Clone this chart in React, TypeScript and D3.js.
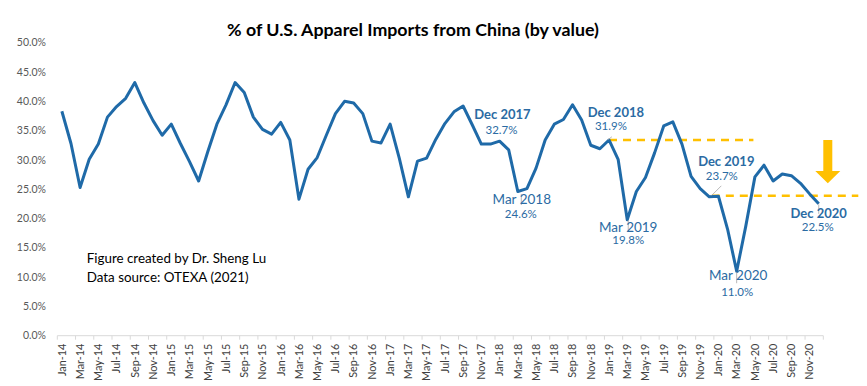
import React, { useEffect, useRef } from 'react';
import * as d3 from 'd3';

// monthly share of U.S. apparel imports (by value) coming from China, in %
const monthNames = ['Jan', 'Feb', 'Mar', 'Apr', 'May', 'Jun', 'Jul', 'Aug', 'Sep', 'Oct', 'Nov', 'Dec'];
const years = ['14', '15', '16', '17', '18', '19', '20'];

const share2014 = [38.3, 32.8, 25.3, 30.1, 32.7, 37.3, 39.1, 40.5, 43.2, 39.7, 36.7, 34.2];
const share2015 = [36.1, 32.8, 29.7, 26.4, 31.4, 36.1, 39.4, 43.2, 41.5, 37.3, 35.2, 34.4];
const share2016 = [36.4, 33.4, 23.3, 28.4, 30.4, 34.2, 37.9, 40.0, 39.7, 37.9, 33.2, 32.9];
const share2017 = [36.1, 30.3, 23.7, 29.8, 30.3, 33.5, 36.2, 38.2, 39.2, 36.0, 32.7, 32.7];
const share2018 = [33.2, 31.7, 24.6, 25.1, 28.6, 33.4, 36.1, 36.9, 39.4, 36.8, 32.5, 31.9];
const share2019 = [33.4, 30.1, 19.8, 24.6, 27.0, 31.2, 35.8, 36.5, 32.7, 27.2, 25.1, 23.7];
const share2020 = [23.8, 18.2, 11.0, 18.7, 27.1, 29.1, 26.4, 27.6, 27.3, 26.0, 24.2, 22.5];

const shares = [...share2014, ...share2015, ...share2016, ...share2017, ...share2018, ...share2019, ...share2020];
const months = years.flatMap(y => monthNames.map(m => `${m}-${y}`));

const yTicks = [0, 5, 10, 15, 20, 25, 30, 35, 40, 45, 50];

// callouts
const calloutMonths = ['Dec-17', 'Mar-18', 'Dec-18', 'Mar-19', 'Dec-19', 'Mar-20', 'Dec-20'];
const calloutTitles = ['Dec 2017', 'Mar 2018', 'Dec 2018', 'Mar 2019', 'Dec 2019', 'Mar 2020', 'Dec 2020'];

// reference levels (dashed)
const refLevels = [33.4, 23.9];
const refStart = ['Jan-19', 'Dec-19'];
const refEnd = ['May-20', null];

const footnotes = ['Figure created by Dr. Sheng Lu', 'Data source: OTEXA (2021)'];

// label offsets relative to the point
const calloutLayout = [
  { tx: 12, ty: -25, vx: 11, vy: -10, bold: true, leader: null },
  { tx: 4, ty: 12.5, vx: 3, vy: 26, bold: false, leader: [3.5, 2.5, 3.5, 13.5] },
  { tx: 16, ty: -32, vx: 11, vy: -19, bold: true, leader: [8, -9, 12, -12] },
  { tx: 1, ty: 12, vx: 1, vy: 24.5, bold: false, leader: [1, 0.5, 1, 12] },
  { tx: 17, ty: -31, vx: 12.5, vy: -17, bold: true, leader: [2.5, -1.5, 12, -11] },
  { tx: 1.5, ty: 9, vx: 0.5, vy: 24.5, bold: false, leader: [0, 1, 0, 12] },
  { tx: 0, ty: 14.5, vx: -1, vy: 27, bold: true, leader: [0, 0.5, 0, 10] },
];

const W = 867;
const H = 386;
const FONT = 'Lato, "Open Sans", sans-serif';
const LINE = '#1f6aa8';
const LABEL = '#2b6ba3';
const GOLD = '#ffc000';

const App = () => {
  const svgRef = useRef(null);

  useEffect(() => {
    const svg = d3.select(svgRef.current);
    svg.selectAll('*').remove();

    const x = d3.scaleBand().domain(months).range([57.3, 823.3]).paddingInner(0).paddingOuter(0);
    const y = d3.scaleLinear().domain([0, 50]).range([335.7, 42.7]);
    const cx = (m: string) => (x(m) as number) + x.bandwidth() / 2;

    svg.append('rect').attr('width', W).attr('height', H).attr('fill', 'white');

    // title
    svg.append('text')
      .attr('x', 413)
      .attr('y', 36)
      .attr('text-anchor', 'middle')
      .attr('font-family', FONT)
      .attr('font-weight', 'bold')
      .attr('font-size', 17.8)
      .attr('fill', '#000')
      .text('% of U.S. Apparel Imports from China (by value)');

    // y labels
    svg.append('g')
      .selectAll('text')
      .data(yTicks)
      .enter()
      .append('text')
      .attr('x', 46)
      .attr('y', d => y(d))
      .attr('dy', '0.35em')
      .attr('text-anchor', 'end')
      .attr('font-family', FONT)
      .attr('font-size', 10.5)
      .attr('fill', '#595959')
      .text(d => `${d.toFixed(1)}%`);

    // x axis line + ticks
    const [x0, x1] = x.range();
    svg.append('line')
      .attr('x1', x0).attr('x2', x1)
      .attr('y1', y(0)).attr('y2', y(0))
      .attr('stroke', '#d9d9d9')
      .attr('stroke-width', 1);

    const tickMonths = months.filter((_, i) => i % 2 === 0);
    svg.append('g')
      .selectAll('line')
      .data([...tickMonths.map(m => x(m) as number), x1])
      .enter()
      .append('line')
      .attr('x1', d => d).attr('x2', d => d)
      .attr('y1', y(0)).attr('y2', y(0) + 4)
      .attr('stroke', '#d9d9d9');

    svg.append('g')
      .selectAll('text')
      .data(tickMonths)
      .enter()
      .append('text')
      .attr('transform', d => `translate(${cx(d) + 3.8},${y(0) + 8}) rotate(-90)`)
      .attr('text-anchor', 'end')
      .attr('font-family', FONT)
      .attr('font-size', 10.8)
      .attr('fill', '#404040')
      .text(d => d);

    // dashed reference lines
    refLevels.forEach((lvl, i) => {
      const xs = cx(refStart[i]) + (i === 1 ? 2.5 : 0);
      const xe = refEnd[i] ? cx(refEnd[i] as string) - 1.5 : x1 + 35;
      svg.append('line')
        .attr('x1', xs).attr('x2', xe)
        .attr('y1', y(lvl)).attr('y2', y(lvl))
        .attr('stroke', GOLD)
        .attr('stroke-width', 2.5)
        .attr('stroke-dasharray', '8,6');
    });

    // series line
    const line = d3.line<number>()
      .x((_, i) => cx(months[i]))
      .y(d => y(d));

    svg.append('path')
      .datum(shares)
      .attr('fill', 'none')
      .attr('stroke', LINE)
      .attr('stroke-width', 3)
      .attr('stroke-linejoin', 'round')
      .attr('d', line);

    // down arrow
    const ax = x1 + 4.5;
    const aTop = y(33.4);
    const aNeck = y(28.1);
    const aTip = y(26.0);
    svg.append('path')
      .attr('d', `M${ax - 4.5},${aTop} L${ax + 4.5},${aTop} L${ax + 4.5},${aNeck} L${ax + 12.5},${aNeck} L${ax},${aTip} L${ax - 12.5},${aNeck} L${ax - 4.5},${aNeck} Z`)
      .attr('fill', GOLD);

    // callouts
    calloutMonths.forEach((m, i) => {
      const idx = months.indexOf(m);
      const px = cx(m);
      const py = y(shares[idx]);
      const lay = calloutLayout[i];
      if (lay.leader) {
        svg.append('line')
          .attr('x1', px + lay.leader[0]).attr('y1', py + lay.leader[1])
          .attr('x2', px + lay.leader[2]).attr('y2', py + lay.leader[3])
          .attr('stroke', '#a6a6a6')
          .attr('stroke-width', 0.8);
      }
      svg.append('text')
        .attr('x', px + lay.tx)
        .attr('y', py + lay.ty)
        .attr('text-anchor', 'middle')
        .attr('font-family', FONT)
        .attr('font-weight', lay.bold ? 'bold' : 'normal')
        .attr('font-size', lay.bold ? 13 : 13.5)
        .attr('fill', LABEL)
        .text(calloutTitles[i]);
      svg.append('text')
        .attr('x', px + lay.vx)
        .attr('y', py + lay.vy)
        .attr('text-anchor', 'middle')
        .attr('font-family', FONT)
        .attr('font-size', 11.5)
        .attr('fill', LABEL)
        .text(`${shares[idx].toFixed(1)}%`);
    });

    // footnote
    svg.append('g')
      .selectAll('text')
      .data(footnotes)
      .enter()
      .append('text')
      .attr('x', 86.7)
      .attr('y', (_, i) => 263.3 + i * 18.4)
      .attr('font-family', FONT)
      .attr('font-size', 13.4)
      .attr('fill', '#000')
      .text(d => d);
  }, []);

  return (
    <svg
      ref={svgRef}
      width={W}
      height={H}
      style={{ position: 'absolute', left: 0, top: 0, display: 'block' }}
    />
  );
};

export default App;
